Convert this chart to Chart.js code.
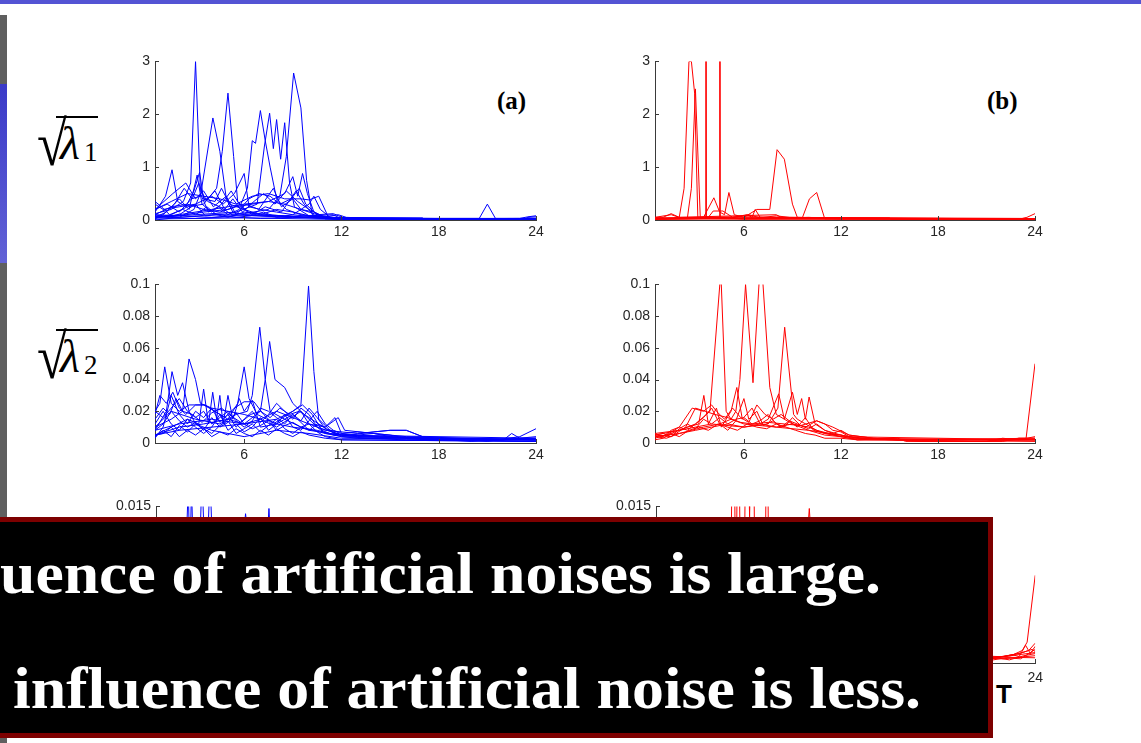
<!DOCTYPE html>
<html>
<head>
<meta charset="utf-8">
<script src="https://cdn.jsdelivr.net/npm/chart.js@4/dist/chart.umd.min.js"></script>
<style>
  html, body { margin: 0; padding: 0; background: #fff; }
  body { width: 1141px; height: 743px; position: relative; overflow: hidden; }
  .abs { position: absolute; }
  #topbar { left: 0; top: 0; width: 1141px; height: 4px; background: #5454d4; }
  .strip { left: 0; width: 7px; }
  .serif { font-family: 'Liberation Serif', 'Times New Roman', serif; color: #000; white-space: nowrap; }
  .rs { font-size: 63px; line-height: 63px; transform: scaleX(0.86); transform-origin: 0 0; }
  .lam { font-size: 46px; line-height: 46px; font-style: italic; }
  .sub { font-size: 27px; line-height: 27px; }
  .vinc { height: 1.5px; background: #000; }
  .tag { font-size: 25px; line-height: 25px; font-weight: bold; }
  #box { left: -20px; top: 517px; width: 1003px; height: 211px; background: #000; border: 5px solid #7d0000; z-index: 5; }
  .msg { font-family: 'Liberation Serif', 'Times New Roman', serif; font-weight: bold; color: #fff; font-size: 60px; line-height: 60px; white-space: nowrap; z-index: 6; transform-origin: 0 0; }
  #tLabel { left: 996px; top: 681px; font-family: 'Liberation Sans', Arial, sans-serif; font-weight: bold; font-size: 26px; line-height: 26px; color: #000; }
</style>
</head>
<body>
<div id="topbar" class="abs"></div>
<div class="abs strip" style="top:15px;height:69px;background:#5f5f5f"></div>
<div class="abs strip" style="top:84px;height:179px;background:linear-gradient(#3a3ac8,#6262d6)"></div>
<div class="abs strip" style="top:263px;height:480px;background:#5f5f5f"></div>

<!-- axis names -->
<div class="abs serif rs" style="left:37px;top:113px">√</div>
<div class="abs vinc" style="left:56px;top:116px;width:42px"></div>
<div class="abs serif lam" style="left:60px;top:121px">λ</div>
<div class="abs serif sub" style="left:84px;top:139px">1</div>

<div class="abs serif rs" style="left:37px;top:326px">√</div>
<div class="abs vinc" style="left:56px;top:329px;width:42px"></div>
<div class="abs serif lam" style="left:60px;top:334px">λ</div>
<div class="abs serif sub" style="left:84px;top:352px">2</div>

<div class="abs serif tag" style="left:497px;top:88px">(a)</div>
<div class="abs serif tag" style="left:987px;top:88px">(b)</div>

<div id="tLabel" class="abs">T</div>

<div id="box" class="abs"></div>
<div id="msg1" class="abs msg" style="left:0px;top:543px">uence of artificial noises is large.</div>
<div id="msg2" class="abs msg" style="left:13px;top:658px">influence of artificial noise is less.</div>

<script>
// ---- shared axis values ----
const hourTicks = [6, 12, 18, 24];
const hourRange = [0.5, 24];
const lambda1Ticks = [0, 1, 2, 3];
const lambda2Ticks = [0, 0.02, 0.04, 0.06, 0.08, 0.1];
const lambda3Ticks = [0, 0.005, 0.01, 0.015];

// ---- sqrt(lambda1), case (a): [hour, value] ----
const a1_01 = [[0.5,0.12],[1.5,0.2],[2.25,0.35],[2.7,0.7],[3.0,3.0],[3.3,0.55],[3.75,0.35],[4.5,0.25],[5.25,0.1],[6.5,0.08],[9,0.05],[11,0.03],[12,0.02],[24,0.02]];
const a1_02 = [[0.5,0.2],[1.25,0.3],[2.0,0.15],[2.75,0.4],[3.3,0.45],[4.07,1.93],[4.5,1.3],[4.9,0.4],[5.3,0.15],[6,0.1],[8,0.08],[10,0.05],[11.5,0.02],[24,0.01]];
const a1_03 = [[0.5,0.05],[1.5,0.1],[2.5,0.25],[3.5,0.3],[4.3,0.6],[4.65,1.3],[5.0,2.4],[5.35,1.2],[5.6,0.35],[6.2,0.15],[7.5,0.1],[9.5,0.05],[12,0.02],[24,0.02]];
const a1_04 = [[0.5,0.15],[1.15,0.45],[1.55,0.95],[1.9,0.35],[2.4,0.25],[2.9,0.55],[3.25,0.9],[3.5,0.4],[4.2,0.35],[4.6,0.6],[5.1,0.3],[6,0.2],[7,0.1],[8.5,0.08],[10,0.05],[12,0.02],[24,0.03]];
const a1_05 = [[0.5,0.1],[2,0.08],[3.5,0.15],[5,0.2],[5.8,0.3],[6.2,0.6],[6.5,1.5],[6.7,1.45],[7.0,2.07],[7.3,1.5],[7.6,1.0],[8.0,0.4],[8.6,0.2],[9.5,0.1],[11,0.04],[12,0.02],[24,0.02]];
const a1_06 = [[0.5,0.05],[3,0.1],[5.5,0.15],[6.8,0.3],[7.25,1.4],[7.57,2.02],[7.8,1.35],[8.0,1.9],[8.25,1.15],[8.5,1.84],[8.8,0.7],[9.1,0.25],[10,0.08],[12,0.02],[24,0.01]];
const a1_07 = [[0.5,0.08],[2,0.05],[4,0.1],[6,0.12],[7.5,0.2],[8.2,0.45],[8.6,1.2],[9.05,2.78],[9.5,2.12],[9.85,0.75],[10.2,0.1],[11,0.04],[12,0.02],[24,0.02]];
const a1_08 = [[0.5,0.3],[1,0.2],[2,0.25],[3,0.3],[4,0.45],[4.7,0.3],[5.4,0.5],[6.0,0.88],[6.3,0.25],[7,0.2],[8,0.15],[9,0.1],[10.5,0.05],[12,0.03],[24,0.02]];
const a1_09 = [[0.5,0.05],[2,0.1],[4,0.2],[6,0.3],[7.5,0.35],[8.5,0.5],[9.0,0.82],[9.3,0.45],[9.6,0.88],[9.9,0.5],[10.3,0.15],[11,0.05],[12,0.02],[24,0.03]];
const a1_10 = [[0.5,0.2],[1.5,0.35],[2.5,0.5],[3.5,0.45],[4.5,0.4],[5.5,0.3],[6.5,0.45],[7.5,0.5],[8.5,0.4],[9.5,0.4],[10.0,0.38],[10.6,0.45],[11.2,0.05],[12,0.03],[24,0.02]];
const a1_11 = [[0.5,0.1],[1.5,0.25],[2.5,0.3],[3.5,0.2],[4.5,0.15],[5.5,0.25],[6.5,0.3],[7.5,0.35],[8.5,0.3],[9.5,0.2],[10.5,0.1],[11.5,0.12],[12.2,0.03],[20.5,0.03],[21.0,0.3],[21.5,0.03],[23,0.03],[23.5,0.06],[24,0.08]];
const a1_12 = [[0.5,0.02],[1,0.1],[1.7,0.3],[2.3,0.6],[2.8,0.4],[3.2,0.7],[3.6,0.35],[4.2,0.55],[4.8,0.2],[5.3,0.4],[5.9,0.15],[6.6,0.35],[7.2,0.5],[7.9,0.3],[8.6,0.55],[9.3,0.35],[10,0.2],[10.8,0.08],[12,0.02],[24,0.02]];
const a1_13 = [[0.5,0.05],[1.2,0.15],[2,0.4],[2.6,0.2],[3.1,0.85],[3.4,0.3],[4,0.15],[4.6,0.3],[5.2,0.55],[5.8,0.25],[6.5,0.1],[7.3,0.25],[8.3,0.15],[9.2,0.55],[9.7,0.3],[10.4,0.05],[24,0.01]];
const a1_14 = [[0.5,0.0],[2,0.05],[2.9,0.2],[3.3,0.5],[3.8,0.15],[4.4,0.25],[5,0.1],[5.7,0.2],[6.3,0.4],[6.9,0.5],[7.6,0.45],[8.2,0.3],[8.9,0.4],[9.4,0.6],[9.8,0.3],[10.5,0.1],[11.3,0.03],[24,0.0]];
const a1_15 = [[0.5,0.35],[0.9,0.25],[1.4,0.1],[2.2,0.2],[3,0.1],[3.7,0.25],[4.3,0.1],[5,0.05],[6,0.15],[7,0.1],[8,0.2],[9,0.15],[10,0.08],[11.5,0.1],[12,0.02],[24,0.0]];
const a1_16 = [[0.5,0.1],[1.3,0.05],[2.1,0.12],[3,0.3],[3.6,0.08],[4.5,0.1],[5.5,0.05],[6.4,0.08],[7.2,0.15],[8,0.05],[9,0.1],[10,0.3],[10.3,0.45],[10.7,0.2],[11.3,0.05],[24,0.0]];
const a1_17 = [[0.5,0.02],[6,0.04],[12,0.01],[24,0.01]];
const a1_18 = [[0.5,0.2],[1.6,0.5],[2.4,0.7],[3.0,0.4],[3.5,0.55],[4.1,0.25],[4.9,0.45],[5.5,0.1],[6.1,0.3],[6.9,0.2],[7.8,0.6],[8.3,0.25],[9.0,0.4],[9.5,0.2],[10.3,0.15],[11,0.02],[24,0.02]];
const a1_19 = [[0.5,0.04],[2,0.08],[4,0.05],[6,0.1],[8,0.06],[10,0.08],[11.5,0.05],[12.5,0.04],[17,0.04],[17.1,0.02],[23.3,0.02],[23.5,0.05],[24,0.06]];
const a1_20 = [[0.5,0.06],[3,0.03],[5,0.06],[7,0.03],[9,0.05],[11,0.06],[11.8,0.1],[12.3,0.05],[14,0.03],[24,0.03]];

// ---- sqrt(lambda1), case (b) ----
const b1_01 = [[0.5,0.03],[1.6,0.03],[2.0,0.05],[2.3,0.6],[2.6,3.0],[2.75,3.0],[2.95,2.4],[3.15,0.03],[5,0.02],[12,0.02],[24,0.02]];
const b1_02 = [[0.5,0.02],[2.5,0.03],[2.75,0.6],[3.0,2.48],[3.3,0.05],[6,0.03],[24,0.01]];
const b1_03 = [[0.5,0.02],[3.5,0.03],[3.6,0.05],[3.64,20],[3.68,0.05],[6,0.02],[24,0.02]];
const b1_04 = [[0.5,0.02],[4.3,0.03],[4.46,0.05],[4.5,20],[4.54,0.05],[6,0.02],[24,0.02]];
const b1_05 = [[0.5,0.05],[1.5,0.1],[2,0.05],[5,0.05],[6.0,0.05],[6.8,0.2],[7.6,0.2],[8.05,1.33],[8.5,1.15],[9.0,0.3],[9.3,0.05],[12,0.03],[15,0.02],[24,0.02]];
const b1_06 = [[0.5,0.02],[6,0.02],[9.6,0.03],[10.05,0.4],[10.5,0.52],[11.0,0.02],[24,0.02]];
const b1_07 = [[0.5,0.03],[3.5,0.05],[4.14,0.42],[4.5,0.15],[4.8,0.1],[5.07,0.52],[5.4,0.1],[6,0.05],[24,0.02]];
const b1_08 = [[0.5,0.02],[3.8,0.05],[4.1,0.17],[4.7,0.17],[5.3,0.05],[6.2,0.1],[6.5,0.05],[6.7,0.2],[7,0.05],[24,0.01]];
const b1_09 = [[0.5,0.05],[1.0,0.05],[1.5,0.12],[2.0,0.05],[8.0,0.1],[8.3,0.05],[23.2,0.03],[23.5,0.05],[24,0.12]];
const b1_10 = [[0.5,0.04],[6,0.06],[12,0.04],[15,0.04],[15.1,0.01],[24,0.01]];
const b1_11 = [[0.5,0.01],[5,0.03],[6.3,0.1],[7,0.04],[8,0.08],[9,0.04],[10,0.05],[12,0.02],[24,0.02]];

// ---- sqrt(lambda2), case (a) ----
const a2_01 = [[0.5,0.005],[2,0.008],[4,0.01],[6,0.012],[8,0.015],[9.0,0.02],[9.5,0.024],[9.97,0.099],[10.3,0.045],[10.6,0.015],[11.5,0.006],[14,0.004],[18,0.002],[24,0.003]];
const a2_02 = [[0.5,0.01],[1.5,0.02],[3,0.015],[4.5,0.012],[5.5,0.018],[6.2,0.02],[6.5,0.03],[6.96,0.073],[7.3,0.04],[7.6,0.02],[8.5,0.015],[9.5,0.01],[11,0.006],[13,0.004],[16,0.003],[24,0.002]];
const a2_03 = [[0.5,0.008],[2,0.012],[4,0.015],[6,0.012],[7.0,0.02],[7.3,0.04],[7.57,0.064],[7.9,0.04],[8.5,0.035],[9.0,0.025],[9.5,0.02],[10.5,0.01],[12,0.005],[15,0.004],[20,0.002],[24,0.002]];
const a2_04 = [[0.5,0.005],[2,0.01],[3.5,0.012],[5,0.015],[5.6,0.025],[6.0,0.048],[6.3,0.028],[6.8,0.018],[8,0.012],[9,0.01],[10.5,0.008],[12,0.004],[24,0.002]];
const a2_05 = [[0.5,0.02],[0.8,0.025],[1.1,0.048],[1.5,0.025],[2.0,0.02],[2.6,0.024],[3.5,0.024],[4.2,0.02],[5,0.015],[6,0.012],[7,0.015],[8,0.01],[9.5,0.02],[10,0.012],[11,0.008],[13,0.006],[15,0.008],[16,0.008],[17,0.004],[18,0.002],[24,0.001]];
const a2_06 = [[0.5,0.008],[1.2,0.02],[1.55,0.045],[1.9,0.03],[2.2,0.038],[2.6,0.02],[3.0,0.012],[4,0.008],[5,0.006],[6,0.004],[8,0.008],[10,0.006],[12,0.003],[24,0.002]];
const a2_07 = [[0.5,0.01],[1.5,0.015],[2.2,0.02],[2.6,0.053],[3.0,0.04],[3.3,0.025],[4,0.022],[5,0.02],[6,0.018],[7,0.015],[8,0.02],[9,0.016],[10,0.012],[11,0.01],[11.8,0.016],[12.2,0.008],[14,0.006],[16,0.004],[24,0.002]];
const a2_08 = [[0.5,0.005],[2.5,0.015],[3.2,0.012],[3.5,0.034],[3.8,0.012],[4.06,0.032],[4.3,0.015],[4.5,0.03],[4.7,0.012],[5.0,0.03],[5.3,0.015],[5.7,0.028],[6,0.02],[6.5,0.027],[7,0.01],[8,0.012],[9,0.018],[10,0.008],[12,0.005],[24,0.003]];
const a2_09 = [[0.5,0.003],[1.0,0.01],[1.5,0.03],[2.0,0.018],[2.5,0.012],[3.0,0.02],[3.5,0.016],[4.0,0.022],[4.5,0.013],[5.0,0.018],[5.5,0.01],[6.0,0.015],[6.5,0.02],[7.0,0.013],[7.5,0.018],[8.0,0.025],[8.5,0.02],[9.0,0.015],[9.5,0.022],[10.0,0.018],[10.5,0.01],[11.0,0.006],[12,0.004],[14,0.003],[18,0.002],[24,0.002]];
const a2_10 = [[0.5,0.012],[1.0,0.02],[1.5,0.012],[2.0,0.008],[2.5,0.015],[3.0,0.01],[3.5,0.006],[4.0,0.01],[4.5,0.018],[5.0,0.008],[5.5,0.012],[6.0,0.007],[6.5,0.01],[7.0,0.016],[7.5,0.008],[8.0,0.012],[8.5,0.018],[9.0,0.01],[9.5,0.008],[10.0,0.014],[10.5,0.02],[11.0,0.012],[11.5,0.008],[12,0.006],[13,0.007],[14,0.006],[15,0.004],[17,0.003],[20,0.001],[22,0.002],[24,0.004]];
const a2_11 = [[0.5,0.018],[0.8,0.03],[1.2,0.025],[1.6,0.032],[2.0,0.022],[2.4,0.018],[3.0,0.024],[3.6,0.024],[4.2,0.02],[4.8,0.016],[5.4,0.022],[6.0,0.026],[6.6,0.026],[7.2,0.018],[7.8,0.012],[8.4,0.016],[9.0,0.02],[9.6,0.024],[10.2,0.018],[10.8,0.008],[11.5,0.005],[12.5,0.005],[14,0.007],[15,0.008],[16,0.008],[17,0.004],[19,0.002],[22,0.002],[22.5,0.006],[23,0.003],[24,0.003]];
const a2_12 = [[0.5,0.005],[1.0,0.006],[1.5,0.01],[2.0,0.004],[2.5,0.008],[3.0,0.005],[3.5,0.009],[4.0,0.004],[4.5,0.007],[5.0,0.005],[5.5,0.009],[6.0,0.006],[6.5,0.004],[7.0,0.008],[7.5,0.005],[8.0,0.009],[8.5,0.006],[9.0,0.004],[9.5,0.007],[10.0,0.005],[11.0,0.003],[12,0.002],[24,0.001]];
const a2_13 = [[0.5,0.02],[1.0,0.016],[1.5,0.022],[2.0,0.028],[2.5,0.02],[3.0,0.016],[3.5,0.02],[4.0,0.012],[4.5,0.016],[5.0,0.02],[5.5,0.014],[6.0,0.01],[6.5,0.014],[7.0,0.022],[7.5,0.02],[8.0,0.016],[8.5,0.012],[9.0,0.018],[9.5,0.014],[10.0,0.022],[10.5,0.016],[11.0,0.009],[11.7,0.007],[12,0.004],[13,0.003],[16,0.002],[24,0.002]];
const a2_14 = [[0.5,0.008],[1.0,0.012],[1.5,0.02],[2.0,0.014],[2.5,0.01],[3.0,0.013],[3.5,0.008],[4.0,0.016],[4.5,0.01],[5.0,0.013],[5.5,0.019],[6.0,0.012],[6.5,0.009],[7.0,0.011],[7.5,0.014],[8.0,0.008],[8.5,0.011],[9.0,0.013],[9.5,0.01],[10.0,0.008],[10.5,0.012],[11.0,0.01],[11.6,0.016],[12.0,0.006],[13,0.005],[14,0.006],[15,0.005],[16,0.003],[18,0.002],[20,0.002],[21,0.001],[23,0.004],[24,0.009]];
const a2_15 = [[0.5,0.004],[1.0,0.008],[1.5,0.004],[2.0,0.011],[2.5,0.007],[3.0,0.012],[3.5,0.009],[4.0,0.006],[4.5,0.011],[5.0,0.014],[5.5,0.006],[6.0,0.009],[6.5,0.012],[7.0,0.007],[7.5,0.011],[8.0,0.015],[8.5,0.009],[9.0,0.006],[9.5,0.01],[10,0.012],[10.5,0.007],[11,0.004],[12,0.002],[24,0.001]];
const a2_16 = [[0.5,0.015],[1.0,0.022],[1.4,0.018],[1.8,0.028],[2.2,0.02],[2.8,0.018],[3.4,0.013],[4.0,0.019],[4.6,0.022],[5.2,0.017],[5.8,0.013],[6.4,0.018],[7.0,0.02],[7.6,0.016],[8.2,0.022],[8.8,0.018],[9.4,0.02],[10.0,0.016],[10.6,0.012],[11.2,0.008],[12,0.005],[13,0.004],[24,0.002]];

// ---- sqrt(lambda2), case (b) ----
const b2_01 = [[0.5,0.005],[2,0.008],[3,0.012],[3.9,0.02],[4.57,0.108],[4.9,0.02],[5.2,0.015],[6,0.012],[8,0.01],[10,0.008],[12,0.005],[13,0.002],[24,0.002]];
const b2_02 = [[0.5,0.004],[2,0.006],[3.5,0.01],[4.5,0.012],[5.2,0.015],[5.5,0.02],[5.75,0.04],[6.1,0.1],[6.56,0.038],[7.05,0.12],[7.6,0.035],[8.0,0.018],[9,0.012],[10,0.01],[11,0.006],[12.5,0.003],[24,0.002]];
const b2_03 = [[0.5,0.006],[2,0.008],[4,0.012],[6,0.01],[7.5,0.012],[8.1,0.022],[8.52,0.073],[9.07,0.018],[9.3,0.015],[10.5,0.008],[12,0.004],[24,0.002]];
const b2_04 = [[0.5,0.003],[1.5,0.006],[2.5,0.01],[3.2,0.012],[3.52,0.03],[3.8,0.012],[4.3,0.022],[4.6,0.01],[5.2,0.02],[5.56,0.035],[5.9,0.015],[6.5,0.022],[7.0,0.012],[7.5,0.015],[8.15,0.031],[8.5,0.015],[9.0,0.032],[9.3,0.018],[9.57,0.028],[9.8,0.015],[10.03,0.029],[10.4,0.012],[11,0.008],[12,0.005],[13,0.003],[15.5,0.002],[24,0.002]];
const b2_05 = [[0.5,0.005],[1.5,0.004],[2.4,0.01],[3.0,0.022],[3.6,0.02],[4.2,0.018],[5,0.016],[5.8,0.013],[6.5,0.012],[7.5,0.013],[8.5,0.012],[9.5,0.011],[10.5,0.014],[11.5,0.01],[12.5,0.005],[14,0.003],[17,0.001],[22,0.001],[23,0.003],[24,0.003]];
const b2_06 = [[0.5,0.004],[1.2,0.003],[2,0.006],[3,0.008],[4,0.01],[5,0.012],[6,0.01],[7,0.012],[8,0.01],[9,0.012],[10,0.008],[11,0.005],[12,0.004],[13,0.002],[15.5,0.003],[16,0.001],[21,0.001],[22,0.002],[23,0.003],[23.45,0.003],[24,0.05]];
const b2_07 = [[0.5,0.006],[1.0,0.004],[1.5,0.008],[2.0,0.01],[2.5,0.008],[3.0,0.012],[3.5,0.016],[4.0,0.022],[4.5,0.012],[5.0,0.008],[5.5,0.014],[6.0,0.028],[6.3,0.015],[6.8,0.02],[7.2,0.011],[7.8,0.014],[8.3,0.01],[8.8,0.014],[9.3,0.012],[9.8,0.01],[10.5,0.014],[11,0.012],[11.5,0.008],[12,0.007],[12.5,0.004],[13.5,0.003],[15,0.002],[20,0.001],[24,0.002]];
const b2_08 = [[0.5,0.002],[1.0,0.003],[1.5,0.006],[2.0,0.004],[2.6,0.008],[3.2,0.01],[3.8,0.008],[4.4,0.012],[5.0,0.01],[5.6,0.008],[6.2,0.012],[6.8,0.01],[7.4,0.009],[8.0,0.012],[8.6,0.01],[9.2,0.008],[9.8,0.006],[10.4,0.005],[11,0.003],[12,0.003],[13,0.002],[24,0.001]];
const b2_09 = [[0.5,0.004],[1.2,0.005],[2.0,0.01],[2.8,0.022],[3.5,0.02],[4.0,0.024],[4.3,0.02],[4.8,0.015],[5.3,0.022],[5.8,0.016],[6.3,0.013],[6.8,0.024],[7.3,0.018],[7.8,0.015],[8.3,0.018],[8.8,0.014],[9.3,0.01],[9.8,0.016],[10.3,0.008],[11,0.006],[12,0.005],[13,0.003],[16,0.002],[24,0.003]];
const b2_10 = [[0.5,0.005],[1.0,0.006],[1.5,0.004],[2.0,0.009],[2.5,0.012],[3.0,0.009],[3.5,0.015],[4.0,0.012],[4.5,0.016],[5.0,0.012],[5.5,0.015],[6.0,0.016],[6.5,0.012],[7.0,0.014],[7.5,0.018],[8.0,0.012],[8.5,0.01],[9.0,0.016],[9.5,0.011],[10.0,0.009],[10.5,0.012],[11,0.008],[11.5,0.006],[12,0.008],[12.5,0.005],[14,0.003],[17,0.001],[21,0.001],[22,0.003],[23,0.002],[24,0.004]];

// ---- sqrt(lambda3), case (a) ----
const a3_01 = [[0.5,0.002],[1.5,0.004],[2.3,0.008],[2.5,0.017],[2.6,0.009],[2.7,0.017],[2.9,0.005],[4,0.004],[6,0.003],[8,0.004],[10,0.003],[12,0.001],[24,0.001]];
const a3_02 = [[0.5,0.003],[2.5,0.005],[3.15,0.008],[3.35,0.018],[3.6,0.007],[3.85,0.018],[4.1,0.006],[5,0.004],[7,0.005],[9,0.004],[11,0.002],[13,0.001],[24,0.001]];
const a3_03 = [[0.5,0.001],[3,0.003],[5.5,0.005],[6.05,0.0143],[6.6,0.006],[7.25,0.008],[7.5,0.0148],[7.75,0.007],[9,0.004],[11,0.002],[24,0.0008]];
const a3_04 = [[0.5,0.004],[2,0.006],[4,0.007],[6,0.005],[8,0.006],[10,0.004],[12,0.002],[18,0.001],[24,0.002]];

// ---- sqrt(lambda3), case (b) ----
const b3_01 = [[0.5,0.001],[3,0.002],[5.1,0.004],[5.3,0.03],[5.45,0.004],[5.6,0.03],[5.75,0.004],[7,0.003],[10,0.002],[13,0.0008],[24,0.0005]];
const b3_02 = [[0.5,0.002],[4,0.003],[5.95,0.004],[6.1,0.03],[6.3,0.014],[6.5,0.03],[6.65,0.004],[8,0.003],[12,0.001],[22,0.0004],[24,0.0007]];
const b3_03 = [[0.5,0.001],[5,0.003],[7.25,0.004],[7.38,0.03],[7.5,0.004],[9.5,0.004],[10.0,0.0148],[10.4,0.005],[12,0.0012],[22,0.0006],[24,0.001]];
const b3_04 = [[0.5,0.002],[3,0.003],[6,0.004],[9,0.003],[12,0.002],[15,0.001],[21,0.0005],[22.5,0.0007],[23.2,0.0012],[23.5,0.002],[24,0.0084]];
const b3_05 = [[0.5,0.001],[10,0.002],[14,0.001],[21,0.0003],[22.6,0.0008],[23,0.0006],[23.4,0.0017],[23.7,0.0009],[24,0.0016]];
const b3_06 = [[0.5,0.002],[12,0.001],[21,0.0004],[22,0.0006],[23.2,0.001],[23.6,0.0012],[24,0.0019]];
const b3_07 = [[0.5,0.001],[12,0.0008],[21.5,0.0005],[23,0.0009],[23.8,0.0013],[24,0.0011]];
const b3_08 = [[0.5,0.0015],[12,0.0006],[21,0.0002],[22.2,0.0005],[23.1,0.0004],[23.6,0.0009],[24,0.0013]];
const b3_09 = [[0.5,0.0012],[12,0.0005],[21.2,0.0006],[22.4,0.0003],[23.3,0.0007],[24,0.0009]];

const caseA1 = [a1_01,a1_02,a1_03,a1_04,a1_05,a1_06,a1_07,a1_08,a1_09,a1_10,a1_11,a1_12,a1_13,a1_14,a1_15,a1_16,a1_17,a1_18,a1_19,a1_20];
const caseB1 = [b1_01,b1_02,b1_03,b1_04,b1_05,b1_06,b1_07,b1_08,b1_09,b1_10,b1_11];
const caseA2 = [a2_01,a2_02,a2_03,a2_04,a2_05,a2_06,a2_07,a2_08,a2_09,a2_10,a2_11,a2_12,a2_13,a2_14,a2_15,a2_16];
const caseB2 = [b2_01,b2_02,b2_03,b2_04,b2_05,b2_06,b2_07,b2_08,b2_09,b2_10];
const caseA3 = [a3_01,a3_02,a3_03,a3_04];
const caseB3 = [b3_01,b3_02,b3_03,b3_04,b3_05,b3_06,b3_07,b3_08,b3_09];

// ---- layout ----
const PAD_L = 64, PAD_T = 12, PAD_R = 14, PAD_B = 34;
const AXIS_COLOR = '#3a3a3a';

// MATLAB-style ticks pointing into the plot area
const inwardTicks = {
  id: 'inwardTicks',
  afterDraw(chart) {
    const { ctx, chartArea: a, scales: { x, y } } = chart;
    ctx.save();
    ctx.strokeStyle = AXIS_COLOR;
    ctx.lineWidth = 1;
    ctx.beginPath();
    x.ticks.forEach(t => {
      const px = Math.round(x.getPixelForValue(t.value)) + 0.5;
      ctx.moveTo(px, a.bottom); ctx.lineTo(px, a.bottom - 4);
    });
    y.ticks.forEach(t => {
      const py = Math.round(y.getPixelForValue(t.value)) + 0.5;
      ctx.moveTo(a.left, py); ctx.lineTo(a.left + 4, py);
    });
    ctx.stroke();
    ctx.restore();
  }
};

function panel(frame, yTicks, color, series, xPad) {
  const cv = document.createElement('canvas');
  const w = frame.right - frame.left + PAD_L + PAD_R;
  const h = frame.bottom - frame.top + PAD_T + PAD_B;
  cv.width = w; cv.height = h;
  cv.style.cssText = `position:absolute;left:${frame.left - PAD_L}px;top:${frame.top - PAD_T}px;width:${w}px;height:${h}px;z-index:1`;
  document.body.appendChild(cv);
  const tickFont = { family: "'Liberation Sans', Arial, sans-serif", size: 14 };
  new Chart(cv, {
    type: 'line',
    data: {
      datasets: series.map(s => ({
        data: s, borderColor: color, borderWidth: 1, pointRadius: 0,
        tension: 0, fill: false
      }))
    },
    options: {
      responsive: false, animation: false, devicePixelRatio: 1, events: [],
      layout: { padding: { top: PAD_T, right: PAD_R, left: 0, bottom: 0 } },
      plugins: { legend: { display: false }, tooltip: { enabled: false } },
      scales: {
        x: {
          type: 'linear', min: hourRange[0], max: hourRange[1], z: 1,
          grid: { display: false, drawTicks: false },
          border: { display: true, color: AXIS_COLOR, width: 1 },
          ticks: { padding: xPad, font: tickFont, color: '#262626', autoSkip: false, maxRotation: 0, callback: v => String(v) },
          afterBuildTicks: s => { s.ticks = hourTicks.map(v => ({ value: v })); },
          afterFit: s => { s.height = PAD_B; }
        },
        y: {
          type: 'linear', min: yTicks[0], max: yTicks[yTicks.length - 1], z: 1,
          grid: { display: false, drawTicks: false },
          border: { display: true, color: AXIS_COLOR, width: 1 },
          ticks: { padding: 5, font: tickFont, color: '#262626', autoSkip: false, callback: v => String(v) },
          afterBuildTicks: s => { s.ticks = yTicks.map(v => ({ value: v })); },
          afterFit: s => { s.width = PAD_L; }
        }
      }
    },
    plugins: [inwardTicks]
  });
}

const BLUE = '#0000ff', RED = '#ff0000';
panel({ left: 155, right: 536, top: 60, bottom: 220 }, lambda1Ticks, BLUE, caseA1, 4);
panel({ left: 655, right: 1035, top: 60, bottom: 220 }, lambda1Ticks, RED, caseB1, 4);
panel({ left: 155, right: 536, top: 283, bottom: 443 }, lambda2Ticks, BLUE, caseA2, 4);
panel({ left: 655, right: 1035, top: 283, bottom: 443 }, lambda2Ticks, RED, caseB2, 4);
panel({ left: 156, right: 536, top: 505, bottom: 663 }, lambda3Ticks, BLUE, caseA3, 7);
panel({ left: 656, right: 1036, top: 505, bottom: 663 }, lambda3Ticks, RED, caseB3, 7);

// fit the two message lines to their spans
function fitLine(id, rightEdge) {
  const el = document.getElementById(id);
  const left = parseFloat(el.style.left);
  const w = el.getBoundingClientRect().width;
  el.style.transform = `scaleX(${(rightEdge - left) / w})`;
}
fitLine('msg1', 881);
fitLine('msg2', 921);
</script>
</body>
</html>
